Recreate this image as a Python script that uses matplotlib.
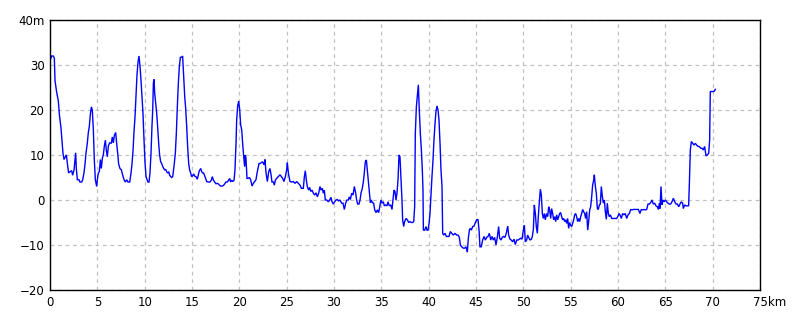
import matplotlib
matplotlib.use("Agg")
import matplotlib.pyplot as plt
import matplotlib.transforms as mtransforms

# distance along route (km) and elevation (m)
km_a = [0, 0.18, 0.35, 0.46, 0.53, 0.70, 0.88, 0.99, 1.16, 1.27,
        1.37, 1.48, 1.62, 1.73, 1.87, 1.97, 2.11, 2.29, 2.39, 2.54,
        2.64, 2.71, 2.78, 2.89, 3.06, 3.17, 3.35, 3.45, 3.59, 3.70,
        3.80, 3.94, 4.05, 4.15, 4.26, 4.37, 4.47, 4.58, 4.68, 4.79,
        4.93, 5.00, 5.11, 5.21, 5.32, 5.42, 5.53, 5.63, 5.74, 5.85,
        5.95, 6.06, 6.16, 6.30, 6.48, 6.58, 6.69, 6.80, 6.94, 7.04,
        7.15, 7.25, 7.39, 7.54, 7.68, 7.82, 7.96, 8.10, 8.24, 8.42,
        8.56, 8.66, 8.77, 8.87, 8.98, 9.08, 9.19, 9.30, 9.40, 9.51,
        9.61, 9.72, 9.82, 9.93, 10.04, 10.14, 10.25, 10.35, 10.46, 10.56,
        10.67, 10.77, 10.85, 10.92, 10.99, 11.06, 11.16, 11.27, 11.37, 11.48,
        11.58, 11.69, 11.80, 11.90, 12.01, 12.11, 12.22, 12.32, 12.43, 12.54,
        12.64, 12.75, 12.85, 12.96, 13.03, 13.13, 13.24, 13.35, 13.45, 13.56,
        13.66, 13.77, 13.91, 14.01, 14.12, 14.23, 14.33, 14.44, 14.54, 14.65,
        14.75, 14.86, 14.96, 15.07, 15.18, 15.28, 15.42, 15.56, 15.67, 15.77,
        15.92, 16.02, 16.13, 16.23, 16.34, 16.44, 16.55, 16.73, 16.90, 17.04,
        17.15, 17.25, 17.39, 17.54, 17.64, 17.78, 17.89, 18.03, 18.20, 18.35,
        18.45, 18.59, 18.73, 18.87, 18.98, 19.08, 19.19, 19.30, 19.44, 19.54,
        19.65, 19.72, 19.82, 19.93, 20.04, 20.14, 20.25, 20.35, 20.46, 20.56,
        20.63, 20.70, 20.81, 20.92, 21.06, 21.20, 21.34, 21.48, 21.62, 21.76,
        21.87, 21.97, 22.08]
elev_a = [31, 32, 32, 31.5, 26.5, 24, 22, 19, 16, 13,
          10.4, 9, 9.6, 10, 7.5, 6, 6.3, 6.5, 5.5, 6.7,
          9, 10.5, 7, 4.5, 4.5, 4, 4, 4.5, 6, 8,
          10.4, 12.6, 15, 16.3, 19, 20.7, 20, 15.5, 9, 4.5,
          3, 4.5, 6, 6.3, 9, 7, 9.3, 10, 12, 13.3,
          11, 9.6, 12, 12.7, 12.6, 14, 12.7, 14.4, 15, 12.6,
          10.4, 8, 7, 6.7, 5.5, 4.5, 4, 4.5, 4, 4,
          6, 8, 11, 15, 18.5, 23, 27.8, 30.7, 32, 29.7,
          26.7, 23, 19.3, 13.4, 8.2, 5.3, 4.5, 4, 4, 6,
          10.4, 16.3, 20, 26, 26.8, 23.7, 21.5, 19.3, 16.3, 12.6,
          10, 8.5, 8.1, 7.5, 7, 6.7, 6.8, 6.3, 6, 6.3,
          5.5, 5.2, 5, 5.2, 6.3, 8.1, 10.4, 15, 20.7, 26,
          29.6, 31.7, 31.7, 32, 27.4, 23, 20.4, 16.3, 11.9, 8.1,
          6.7, 6, 5.2, 5.4, 5.8, 5.3, 5.2, 4.6, 5.6, 6.5,
          7, 6.3, 6, 6, 5.4, 4.8, 4.1, 4, 4, 4.4,
          5.2, 4.5, 4, 3.6, 3.7, 3.6, 3.3, 3.1, 3.1, 3.3,
          3.6, 4, 4, 4.4, 4.8, 4, 4.4, 4.1, 4.4, 6.7,
          12.6, 17.8, 20.8, 22, 20, 16.7, 15.6, 12.6, 9.7, 7.4,
          10, 9.3, 4.8, 4.8, 5, 4.5, 3.1, 3.7, 4.1, 4.5,
          6, 7, 8.1]

km_b = [22.18, 22.46, 22.61, 22.71, 22.82, 22.96, 23.10, 23.24, 23.35, 23.45,
        23.59, 23.70, 23.80, 23.94, 24.12, 24.30, 24.44, 24.58, 24.72, 24.86,
        25.00, 25.07, 25.18, 25.35, 25.53, 25.70, 25.88, 26.06, 26.23, 26.41,
        26.55, 26.76, 26.87, 26.97, 27.08, 27.18, 27.32, 27.43, 27.54, 27.68,
        27.82, 27.96, 28.10, 28.24, 28.38, 28.52, 28.63, 28.77, 28.87, 28.98,
        29.08, 29.23, 29.40, 29.54, 29.68, 29.79, 29.93, 30.07, 30.21, 30.35,
        30.49, 30.63, 30.81, 30.95, 31.09, 31.23, 31.37, 31.51, 31.62, 31.73,
        31.87, 32.01, 32.15, 32.29, 32.39, 32.50, 32.64, 32.75, 32.85, 32.99,
        33.10, 33.20, 33.31, 33.42, 33.52, 33.63, 33.73, 33.84, 33.94, 34.05,
        34.19, 34.30, 34.44, 34.58, 34.72, 34.86, 34.96, 35.07, 35.21, 35.32,
        35.46, 35.60, 35.70, 35.85, 35.99, 36.13, 36.23, 36.34, 36.44, 36.55,
        36.65, 36.76, 36.87, 36.97, 37.08, 37.18, 37.25, 37.36, 37.46, 37.61,
        37.75, 37.89, 38.03, 38.17, 38.31, 38.42, 38.52, 38.59, 38.70, 38.80,
        38.91, 39.01, 39.12, 39.23, 39.33, 39.40, 39.44, 39.58, 39.72, 39.82,
        39.93, 40.04, 40.14, 40.25, 40.35, 40.46, 40.56, 40.67, 40.77, 40.88,
        40.99, 41.09, 41.20, 41.30, 41.41, 41.48, 41.58, 41.73, 41.87, 42.01,
        42.15, 42.29, 42.43, 42.61, 42.78, 42.96, 43.10, 43.24, 43.35, 43.49,
        43.66, 43.80, 43.94, 44.08, 44.19, 44.30, 44.40, 44.51, 44.65, 44.79,
        44.93, 45.07, 45.21, 45.32, 45.42, 45.56, 45.70, 45.85, 45.99, 46.13,
        46.27, 46.41, 46.55, 46.69, 46.83, 46.97, 47.11, 47.25, 47.39, 47.50,
        47.64, 47.78, 47.92, 48.06, 48.20, 48.35, 48.45, 48.59, 48.73, 48.87,
        49.01, 49.15, 49.30, 49.44, 49.58, 49.72, 49.86]
elev_b = [8.1, 8.5, 7.8, 9, 6, 4.1, 6.3, 7, 5.6, 4,
          4, 3.3, 4.4, 4.8, 5.2, 5.6, 5.2, 4.8, 4.1, 5.2,
          6.7, 8.3, 6, 4.1, 4, 4.1, 3.7, 4.1, 3.7, 3.3,
          2.6, 2.6, 5.2, 6.5, 4.4, 3, 2.2, 2.8, 1.9, 2.2,
          1.5, 1.1, 1.6, 0.7, 1.5, 3, 2.2, 2.6, 1.5, 2.2,
          0, 0, -0.4, 0, 0.6, -0.4, -0.9, -0.4, 0, 0.1,
          -0.2, 0, -0.7, -0.7, -2.1, -0.7, 0, 0, 0.7, 0.1,
          1.5, 1.1, 3, 1.5, 0, -0.9, -0.9, 0, 1.5, 2.6,
          4, 6, 8.5, 8.9, 6.7, 4.4, 1.9, -0.6, 0, -0.6,
          -0.7, -2.2, -2.8, -2.2, -2.8, -1.1, 0, -0.7, -0.4, -1.3,
          -1.1, -1.3, -0.4, -1.3, -1.1, -2.1, 0.1, 2.2, 1.9, 0,
          1.5, 4.4, 10, 9.6, 4.4, 0, -4.4, -5.9, -4.8, -4.1,
          -4.4, -5, -4.8, -5, -5, -4.8, -1.5, 14.8, 20.7, 23,
          25.6, 20, 14.8, 11.1, 6.7, 2.2, -6.7, -6.7, -5.9, -6.7,
          -6.7, -5.2, -3, 1.5, 5.2, 8.9, 13.3, 17, 19.6, 20.9,
          20, 17.8, 12.6, 6.7, 3, -7.4, -7.8, -7.4, -8.1, -8.1,
          -8.1, -7, -7.4, -7.8, -7.4, -7.8, -7.8, -8.3, -10, -10.4,
          -10.7, -10.7, -10.4, -11.6, -8.5, -6.7, -6.3, -6.7, -5.9, -5.8,
          -5, -4.4, -4.3, -6.7, -10.4, -10.4, -8.9, -8.1, -8.9, -8.3,
          -8.1, -7.4, -8.9, -8.1, -8.9, -8.3, -10, -8.3, -5.9, -8.5,
          -8.9, -8.3, -8.1, -8.3, -7.4, -5.8, -7.8, -8.7, -8.9, -9.3,
          -8.7, -9.9, -8.9, -8.9, -8.7, -8.5, -8.7]

km_c = [50.00, 50.11, 50.21, 50.35, 50.46, 50.56, 50.70, 50.85, 50.95, 51.06,
        51.16, 51.27, 51.37, 51.48, 51.58, 51.69, 51.80, 51.90, 52.01, 52.11,
        52.22, 52.32, 52.46, 52.57, 52.68, 52.78, 52.89, 52.99, 53.10, 53.20,
        53.31, 53.42, 53.52, 53.63, 53.73, 53.84, 53.94, 54.05, 54.15, 54.26,
        54.37, 54.47, 54.58, 54.68, 54.79, 54.89, 55.00, 55.11, 55.21, 55.32,
        55.42, 55.53, 55.63, 55.74, 55.85, 55.95, 56.06, 56.16, 56.27, 56.37,
        56.48, 56.58, 56.69, 56.80, 56.90, 57.01, 57.11, 57.22, 57.32, 57.43,
        57.50, 57.61, 57.71, 57.82, 57.92, 58.03, 58.13, 58.24, 58.35, 58.45,
        58.56, 58.66, 58.77, 58.87, 58.98, 59.08, 59.19, 59.33, 59.51, 59.68,
        59.86, 60.00, 60.11, 60.21, 60.35, 60.49, 60.63, 60.77, 60.92, 61.06,
        61.20, 61.34, 61.48, 61.62, 61.80, 61.97, 62.15, 62.32, 62.46, 62.61,
        62.75, 62.89, 63.03, 63.17, 63.31, 63.45, 63.59, 63.73, 63.87, 64.01,
        64.15, 64.26, 64.37, 64.44, 64.54, 64.65, 64.75, 64.86, 65.00, 65.14,
        65.28, 65.42, 65.56, 65.70, 65.85, 65.99, 66.13, 66.27, 66.41, 66.55,
        66.69, 66.83, 66.90, 67.04, 67.18, 67.32, 67.46, 67.54, 67.64, 67.75,
        67.89, 68.03, 68.17, 68.31, 68.45, 68.59, 68.73, 68.87, 69.01, 69.15,
        69.30, 69.44, 69.58, 69.68, 69.75, 69.89, 70.04, 70.18, 70.28]
elev_c = [-6.7, -5.6, -9.3, -8.9, -7.8, -8.3, -8.9, -8.7, -8.1, -6.5,
          -1.1, -3, -5.9, -7.4, -3.7, -0.4, 2.4, 1.1, -3, -4.1,
          -3, -4.4, -3, -3.7, -1.5, -2.2, -4.1, -1.9, -3, -4.4,
          -3.7, -4.8, -3.3, -4.4, -3.7, -3, -2.8, -3.7, -4.4, -4.1,
          -4.8, -4.4, -5.2, -4.1, -6.3, -5, -5.6, -5.9, -5.2, -4.4,
          -3.3, -3, -3.7, -4.8, -4.1, -4.8, -3.7, -3, -2.1, -2.6,
          -3, -4.1, -2.6, -6.7, -4.8, -2.2, -1.5, 0.7, 3.3, 4.4,
          5.6, 3, 1.5, -1.9, -2.1, -1.1, -0.9, 3, 0.7, -0.7,
          0, -2.6, -4.3, -0.7, -3, -3.7, -3.3, -4.1, -4.1, -4.1,
          -4.1, -3.6, -3, -3.3, -4.1, -3, -3.3, -3, -4.1, -3.3,
          -3, -2.1, -2.2, -2.1, -2.1, -2.1, -2.1, -3, -2.1, -2.2,
          -2.1, -2.2, -2.1, -0.9, -0.9, -0.6, 0, -0.9, -0.7, -1.3,
          -1.5, -2.1, -0.7, -1.9, 3, -1.1, 0, -0.4, 0, -0.4,
          -0.7, -0.9, -0.9, -0.4, 0.4, -0.4, -0.9, -0.9, -1.5, -0.9,
          -0.4, -0.7, -1.9, -1.1, -1.3, -1.3, -1.3, 3.7, 11.1, 13,
          12.6, 12.2, 12.6, 12.2, 11.9, 11.9, 11.5, 11.5, 11.1, 11.9,
          9.8, 10, 10.4, 13.3, 24.1, 24.1, 24.1, 24.2, 24.6]

x_ticks = [0, 5, 10, 15, 20, 25, 30, 35, 40, 45, 50, 55, 60, 65, 70, 75]
x_labels = ["0", "5", "10", "15", "20", "25", "30", "35", "40", "45",
            "50", "55", "60", "65", "70", "75km"]
y_ticks = [-20, -10, 0, 10, 20, 30, 40]
y_labels = ["\u221220", "\u221210", "0", "10", "20", "30", "40m"]

km = km_a + km_b + km_c
elev = elev_a + elev_b + elev_c

plt.rcParams['font.family'] = ['DejaVu Sans']
fig = plt.figure(figsize=(8, 3.2), dpi=100)
fig.patch.set_facecolor('white')
ax = fig.add_axes([50 / 800, 30 / 320, 710 / 800, 270 / 320])

ax.plot(km, elev, color='#0000ff', linewidth=1.0, solid_joinstyle='miter')

ax.set_xlim(0, 75)
ax.set_ylim(-20, 40)
ax.set_xticks(x_ticks)
ax.set_xticklabels(x_labels)
ax.set_yticks(y_ticks)
ax.set_yticklabels(y_labels)
ax.tick_params(length=0, labelsize=8.5, colors='black', pad=4)
ax.grid(True, color='#c0c0c0', linestyle=(0, (3, 3)), linewidth=0.9)
ax.set_axisbelow(True)
for s in ax.spines.values():
    s.set_color('black')
    s.set_linewidth(1.0)

# shift "75km" so the number sits under its tick
lab = ax.get_xticklabels()[-1]
lab.set_horizontalalignment('left')
lab.set_transform(lab.get_transform() + mtransforms.ScaledTranslation(-7 / 100, 0, fig.dpi_scale_trans))

fig.savefig("out.png", dpi=100)
